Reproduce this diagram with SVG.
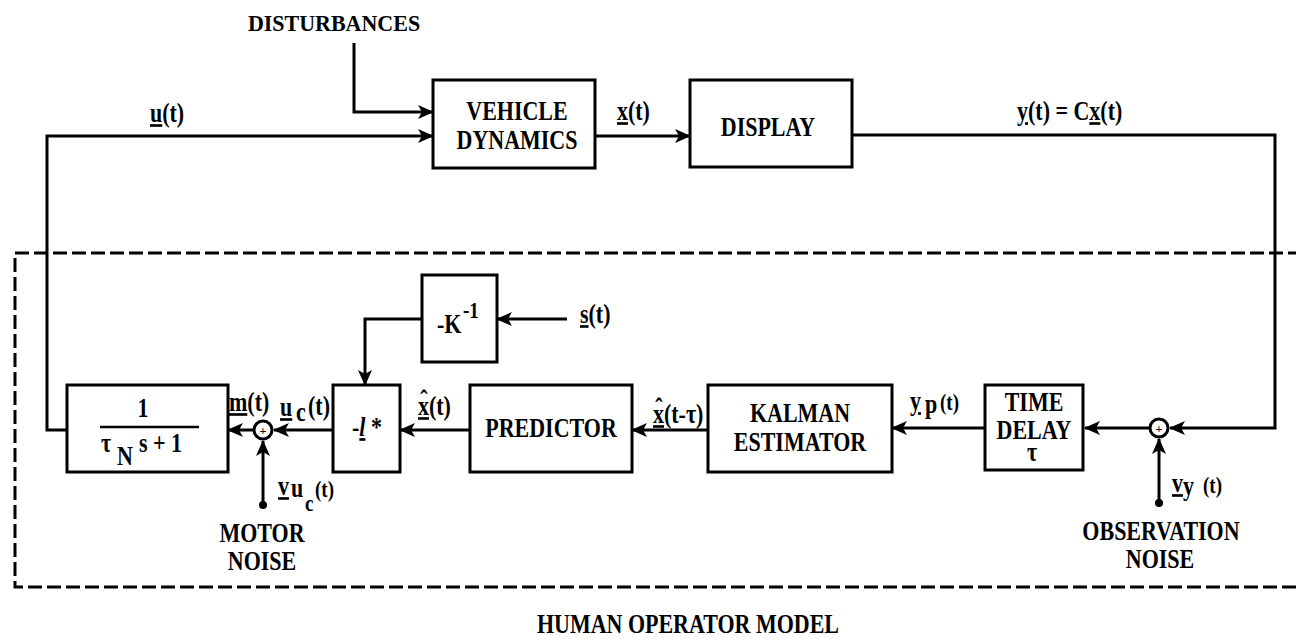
<svg xmlns="http://www.w3.org/2000/svg" width="1296" height="639" viewBox="0 0 1296 639">
<style>
.bx{fill:none;stroke:#000;stroke-width:3}
.ln{fill:none;stroke:#000;stroke-width:3}
.t{font-family:"Liberation Serif","Times New Roman",serif;font-weight:bold;font-size:22px;fill:#000}
.m{text-anchor:middle}
.s{font-size:19px}
.u{text-decoration:underline;text-decoration-skip-ink:none}
</style>
<defs>
<marker id="ah" viewBox="0 0 16 16" refX="15" refY="8" markerWidth="16" markerHeight="16" markerUnits="userSpaceOnUse" orient="auto">
<path d="M0,1 L16,8 L0,15 L4,8 Z" fill="#000"/>
</marker>
</defs>
<rect width="1296" height="639" fill="#fff"/>

<g id="boundary">
<rect x="15" y="253" width="1300" height="334" fill="none" stroke="#000" stroke-width="3" stroke-dasharray="14 5"/>
</g>

<g id="connectors">
<path class="ln" d="M354,43 V112 H433" marker-end="url(#ah)"/>
<path class="ln" d="M67,430 H47 V136 H433" marker-end="url(#ah)"/>
<path class="ln" d="M595,136 H690" marker-end="url(#ah)"/>
<path class="ln" d="M852,135 H1275 V428 H1170" marker-end="url(#ah)"/>
<path class="ln" d="M1159,503 V439" marker-end="url(#ah)"/>
<circle cx="1159" cy="503" r="4" fill="#000"/>
<path class="ln" d="M1150,428 H1085" marker-end="url(#ah)"/>
<path class="ln" d="M985,428 H892" marker-end="url(#ah)"/>
<path class="ln" d="M708,430 H632" marker-end="url(#ah)"/>
<path class="ln" d="M470,430 H400" marker-end="url(#ah)"/>
<path class="ln" d="M567,319 H497" marker-end="url(#ah)"/>
<path class="ln" d="M422,319 H365 V385" marker-end="url(#ah)"/>
<path class="ln" d="M333,430 H274" marker-end="url(#ah)"/>
<path class="ln" d="M263,505 V441" marker-end="url(#ah)"/>
<circle cx="263" cy="505" r="4" fill="#000"/>
<path class="ln" d="M254,430 H228" marker-end="url(#ah)"/>
</g>

<g id="disturbances">
<text class="t m" transform="translate(334,31) scale(1,1.08)">DISTURBANCES</text>
</g>

<g id="vehicle">
<rect class="bx" x="433" y="80" width="162" height="88"/>
<g transform="scale(1,1.2)">
<text class="t m" x="517" y="100">VEHICLE</text>
<text class="t m" x="517" y="124.17">DYNAMICS</text>
</g>
</g>

<g id="display">
<rect class="bx" x="690" y="80" width="162" height="87"/>
<text class="t m" transform="translate(768,136) scale(1,1.2)">DISPLAY</text>
</g>

<g id="gain">
<rect class="bx" x="422" y="275" width="75" height="87"/>
<g transform="scale(1,1.2)">
<text class="t" x="437" y="277.5">-K</text>
<text class="t s" x="463" y="265">-1</text>
</g>
</g>

<g id="filter">
<rect class="bx" x="67" y="385" width="161" height="87"/>
<line x1="100" y1="427" x2="199" y2="427" stroke="#000" stroke-width="2.5"/>
<g transform="scale(1,1.2)">
<text class="t m" x="143" y="347.5">1</text>
<text class="t" x="101" y="376.67">τ</text>
<text class="t" x="117" y="387.5">N</text>
<text class="t" x="139" y="376.67">s + 1</text>
</g>
</g>

<g id="sum-motor">
<circle cx="263" cy="430" r="9" fill="#fff" stroke="#000" stroke-width="3"/>
<text class="t m" x="263" y="434.5" style="font-size:12px">+</text>
</g>

<g id="optgain">
<rect class="bx" x="333" y="385" width="67" height="87"/>
<text class="t m" transform="translate(367,436) scale(1,1.2)">-<tspan class="u" font-style="italic">l</tspan> *</text>
</g>

<g id="predictor">
<rect class="bx" x="470" y="385" width="162" height="87"/>
<text class="t m" transform="translate(551,437) scale(1,1.2)">PREDICTOR</text>
</g>

<g id="kalman">
<rect class="bx" x="708" y="385" width="184" height="87"/>
<g transform="scale(1,1.2)">
<text class="t m" x="800" y="351.67">KALMAN</text>
<text class="t m" x="800" y="375.83">ESTIMATOR</text>
</g>
</g>

<g id="timedelay">
<rect class="bx" x="985" y="385" width="98" height="85"/>
<g transform="scale(1,1.2)">
<text class="t m" x="1034" y="342.5">TIME</text>
<text class="t m" x="1034" y="365.83">DELAY</text>
<text class="t m" x="1032" y="384.2">τ</text>
</g>
</g>

<g id="sum-obs">
<circle cx="1159" cy="428" r="9" fill="#fff" stroke="#000" stroke-width="3"/>
<text class="t m" x="1159" y="432.5" style="font-size:12px">+</text>
</g>

<g id="labels">
<g transform="scale(1,1.2)">
<text class="t" x="150" y="101.67"><tspan class="u">u</tspan>(t)</text>
<text class="t" x="617" y="100"><tspan class="u">x</tspan>(t)</text>
<text class="t" x="1017" y="100"><tspan class="u">y</tspan>(t) = C<tspan class="u">x</tspan>(t)</text>
<text class="t" x="580" y="269.17"><tspan class="u">s</tspan>(t)</text>
<text class="t" x="229" y="342.5"><tspan class="u">m</tspan>(t)</text>
<text class="t" x="280" y="346.67"><tspan class="u">u</tspan></text>
<text class="t" x="296" y="350.83">c</text>
<text class="t" x="308" y="346">(t)</text>
<text class="t" x="418" y="345.83"><tspan class="u">x</tspan>(t)</text>
<text class="t m" x="424" y="341">ˆ</text>
<text class="t" x="653" y="352.5"><tspan class="u">x</tspan>(t-τ)</text>
<text class="t m" x="659" y="347.5">ˆ</text>
<text class="t" x="910" y="341.67"><tspan class="u">y</tspan></text>
<text class="t" x="925" y="344.17">p</text>
<text class="t s" x="940" y="341.67">(t)</text>
<text class="t" x="1172" y="410"><tspan class="u">v</tspan></text>
<text class="t" x="1183" y="412.5">y</text>
<text class="t s" x="1203" y="410.83">(t)</text>
<text class="t" x="278" y="412.5"><tspan class="u">v</tspan></text>
<text class="t" x="291" y="414.17">u</text>
<text class="t s" x="305" y="425.83">c</text>
<text class="t s" x="315" y="414.5">(t)</text>
<text class="t m" x="1161" y="450">OBSERVATION</text>
<text class="t m" x="1160" y="473.33">NOISE</text>
<text class="t m" x="262" y="451.67">MOTOR</text>
<text class="t m" x="262" y="475">NOISE</text>
<text class="t m" x="688" y="527.5">HUMAN OPERATOR MODEL</text>
</g>
</g>
</svg>
